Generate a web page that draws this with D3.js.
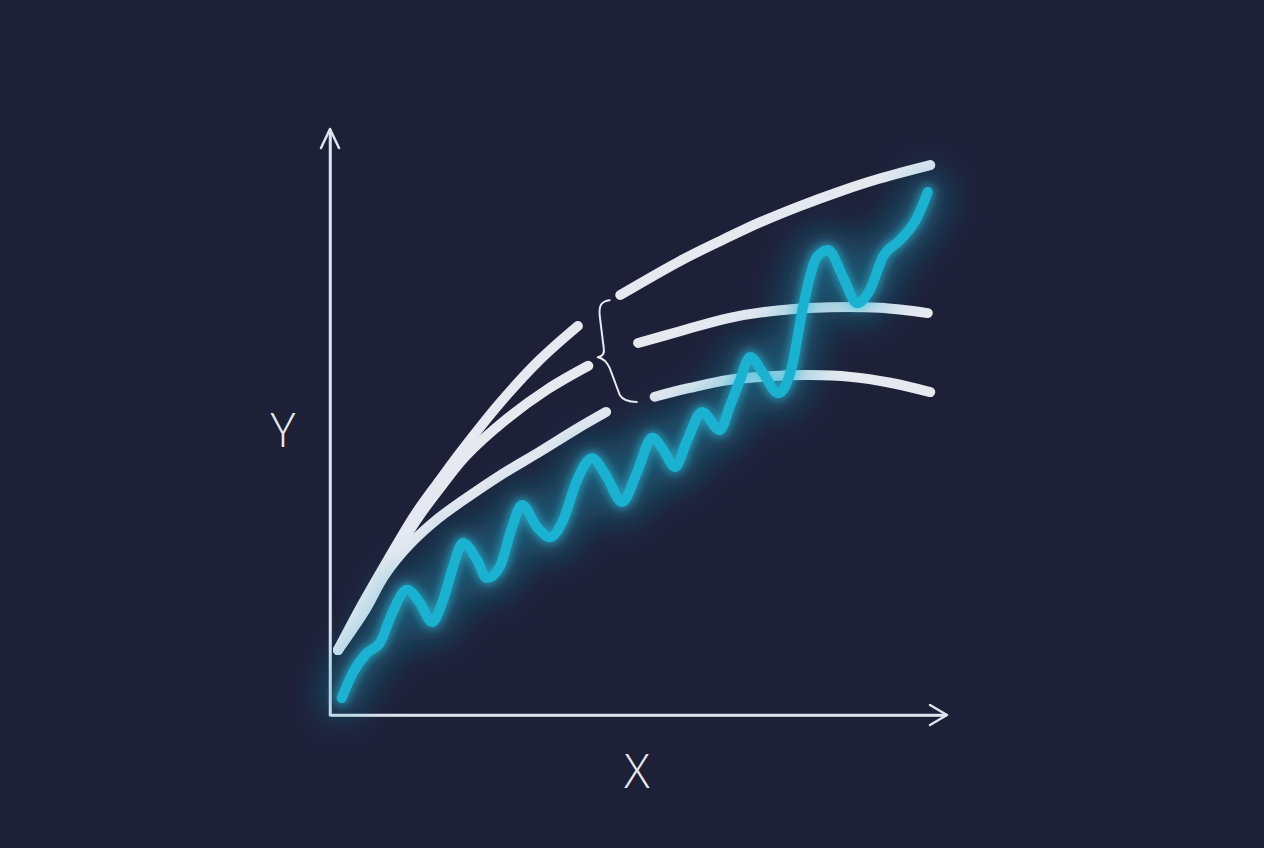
<!DOCTYPE html>
<html>
<head>
<meta charset="utf-8">
<script src="https://cdn.jsdelivr.net/npm/d3@7/dist/d3.min.js"></script>
<style>
  html, body { margin: 0; padding: 0; background: #1e2038; }
  svg { display: block; }
</style>
</head>
<body>
<svg id="chart" width="1264" height="848"></svg>
<script>
// ---- Data (x, y in chart units 0..100) ----
const axisLabels = { x: "X", y: "Y" };

// Upper bound curve, before and after the gap
const upperA = [[1.3,11.1],[5.2,18.8],[9.4,26.5],[13.8,34.2],[17.9,40.2],[21.5,45.3],[27.6,53.3],[34.1,60.7],[40.3,66.5]];
const upperB = [[47.2,71.8],[56.9,77.6],[63.4,81.0],[69.9,84.2],[76.4,87.0],[82.9,89.5],[89.4,91.7],[97.6,94.0]];
// Middle curve
const middleA = [[1.3,11.1],[5.5,18.6],[9.8,26.2],[14.3,33.7],[18.4,39.5],[22.1,44.3],[28.5,50.4],[35.4,55.7],[42.0,59.7]];
const middleB = [[50.1,63.6],[56.9,65.6],[65.0,67.9],[73.2,69.2],[81.3,69.7],[89.4,69.6],[97.2,68.7]];
// Lower curve
const lowerA = [[1.3,11.1],[5.7,17.9],[8.9,23.9],[13.0,29.2],[17.6,33.6],[21.8,36.8],[27.6,40.9],[34.1,45.0],[39.8,48.7],[44.9,51.8]];
const lowerB = [[52.8,54.4],[58.5,55.9],[65.0,57.3],[71.5,57.9],[78.0,58.1],[84.6,57.8],[91.1,56.8],[97.6,55.2]];

// Oscillating measured series
const signal = [
  [1.9,2.9],[3.7,7.2],[6.0,10.6],[8.1,12.3],[10.1,17.4],[12.5,21.4],[14.6,19.2],[16.6,15.9],
  [18.4,19.7],[20.0,25.3],[21.6,29.4],[23.9,26.5],[25.5,23.4],[27.6,25.3],[29.6,32.1],[31.2,35.9],
  [33.7,32.1],[35.8,30.4],[37.9,33.3],[40.2,40.2],[42.6,43.9],[45.0,40.7],[47.5,36.4],[49.9,41.4],
  [52.4,47.4],[54.2,45.3],[56.1,42.4],[58.1,47.0],[60.5,51.8],[63.4,48.7],[65.0,52.7],[66.7,57.3],
  [68.3,61.2],[70.4,58.5],[72.9,55.0],[75.1,59.5],[76.9,69.7],[79.2,78.3],[81.0,79.5],[83.4,74.9],
  [85.7,70.4],[87.8,72.7],[89.9,78.3],[92.7,81.2],[95.5,85.1],[97.2,89.4]
];

// Brace annotation across the gap (x position, y top, y bottom)
const brace = { x: 45.0, yTop: 70.9, yBottom: 53.5 };

// ---- Layout ----
const W = 1264, H = 848;
const svg = d3.select("#chart");
const x = d3.scaleLinear().domain([0, 100]).range([330, 945]);
const y = d3.scaleLinear().domain([0, 100]).range([715, 130]);

svg.append("rect").attr("width", W).attr("height", H).attr("fill", "#1e2038");

const defs = svg.append("defs");
const f1 = defs.append("filter").attr("id", "halo").attr("x", "-50%").attr("y", "-50%").attr("width", "200%").attr("height", "200%");
f1.append("feGaussianBlur").attr("stdDeviation", 18);
const f2 = defs.append("filter").attr("id", "glow").attr("x", "-50%").attr("y", "-50%").attr("width", "200%").attr("height", "200%");
f2.append("feGaussianBlur").attr("stdDeviation", 5);

// ---- Axes ----
const axisColor = "#dfe3ee";
const gx = svg.append("g").attr("transform", `translate(0,${y(0)})`)
  .call(d3.axisBottom(x).tickValues([]).tickSizeOuter(0));
const gy = svg.append("g").attr("transform", `translate(${x(0)},0)`)
  .call(d3.axisLeft(y).tickValues([]).tickSizeOuter(0));
[gx, gy].forEach(g => g.select(".domain").attr("stroke", axisColor).attr("stroke-width", 2.5));
svg.append("line").attr("x1", x(0)).attr("y1", y(0)).attr("x2", x(100) + 2).attr("y2", y(0))
  .attr("stroke", axisColor).attr("stroke-width", 2.5);
svg.append("line").attr("x1", x(0)).attr("y1", y(0) + 1.2).attr("x2", x(0)).attr("y2", y(100) - 1)
  .attr("stroke", axisColor).attr("stroke-width", 2.5);
svg.append("path")
  .attr("d", `M${x(0) - 9},${y(100) + 18} L${x(0)},${y(100) - 1} L${x(0) + 9},${y(100) + 18}`)
  .attr("fill", "none").attr("stroke", axisColor).attr("stroke-width", 2.5).attr("stroke-linecap", "round").attr("stroke-linejoin", "round");
svg.append("path")
  .attr("d", `M${x(100) - 15},${y(0) - 10} L${x(100) + 2},${y(0)} L${x(100) - 15},${y(0) + 10}`)
  .attr("fill", "none").attr("stroke", axisColor).attr("stroke-width", 2.5).attr("stroke-linecap", "round").attr("stroke-linejoin", "round");

svg.append("text").text(axisLabels.y)
  .attr("x", 283).attr("y", 447).attr("text-anchor", "middle")
  .attr("font-family", "'Open Sans', 'DejaVu Sans', sans-serif").attr("font-weight", 300)
  .attr("font-size", 47).attr("fill", "#e6e9f2");
svg.append("text").text(axisLabels.x)
  .attr("x", 637).attr("y", 788).attr("text-anchor", "middle")
  .attr("font-family", "'Open Sans', 'DejaVu Sans', sans-serif").attr("font-weight", 300)
  .attr("font-size", 47).attr("fill", "#e6e9f2");

// ---- White curves ----
const smooth = d3.line().x(d => x(d[0])).y(d => y(d[1])).curve(d3.curveCatmullRom.alpha(0.5));
const wave = d3.line().x(d => x(d[0])).y(d => y(d[1])).curve(d3.curveMonotoneX);
const white = "#e7e9f1";
[upperA, upperB, middleA, middleB, lowerA, lowerB].forEach(seg => {
  svg.append("path").attr("d", smooth(seg))
    .attr("fill", "none").attr("stroke", white).attr("stroke-width", 10)
    .attr("stroke-linecap", "round").attr("stroke-linejoin", "round");
});

// ---- Brace ----
const bx = x(brace.x), bt = y(brace.yTop), bb = y(brace.yBottom);
const bm = bt + (bb - bt) * 0.55;
const braceD = `M${bx + 3},${bt}
  C${bx - 6},${bt + 1} ${bx - 8},${bt + 6} ${bx - 7},${bt + 16}
  L${bx - 3},${bm - 8}
  C${bx - 2},${bm - 3} ${bx - 4},${bm} ${bx - 9},${bm + 1}
  C${bx - 4},${bm + 2} ${bx},${bm + 5} ${bx + 3},${bm + 12}
  L${bx + 13},${bb - 7}
  C${bx + 16},${bb - 2} ${bx + 21},${bb} ${bx + 30},${bb}`;
svg.append("path").attr("d", braceD)
  .attr("fill", "none").attr("stroke", "#e7e9f1").attr("stroke-width", 2)
  .attr("stroke-linecap", "round").attr("stroke-linejoin", "round");

// ---- Glowing signal ----
const cyan = "#1bb2d2";
svg.append("path").attr("d", wave(signal))
  .attr("fill", "none").attr("stroke", "#1a9fc0").attr("stroke-width", 40).attr("stroke-opacity", 0.42)
  .attr("stroke-linecap", "round").attr("stroke-linejoin", "round").attr("filter", "url(#halo)");
svg.append("path").attr("d", wave(signal))
  .attr("fill", "none").attr("stroke", "#2cc8e6").attr("stroke-width", 14).attr("stroke-opacity", 0.6)
  .attr("stroke-linecap", "round").attr("stroke-linejoin", "round").attr("filter", "url(#glow)");
svg.append("path").attr("d", wave(signal))
  .attr("fill", "none").attr("stroke", cyan).attr("stroke-width", 10)
  .attr("stroke-linecap", "round").attr("stroke-linejoin", "round");
</script>
</body>
</html>
